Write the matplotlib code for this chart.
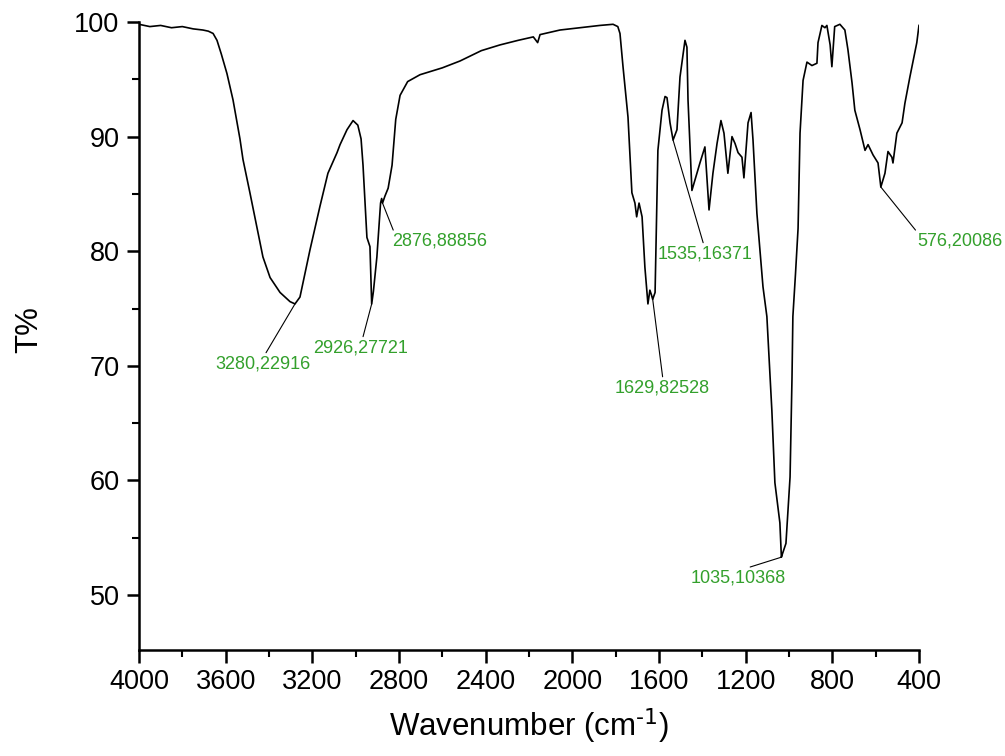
import numpy as np
import matplotlib
matplotlib.use("Agg")
import matplotlib.pyplot as plt
from matplotlib.ticker import MultipleLocator

plt.rcParams['font.family'] = ['Liberation Sans', 'DejaVu Sans']

# FTIR spectrum: wavenumber (cm-1) and transmittance (%)
wavenumber = [
    4000, 3950, 3900, 3850, 3800, 3750, 3705, 3680, 3658, 3640, 3620, 3594,
    3566, 3534, 3520, 3488, 3456, 3428, 3395, 3349, 3303, 3280, 3257, 3211,
    3165, 3128, 3086, 3072, 3040, 3012, 2990, 2975, 2966, 2948, 2934, 2926,
    2918, 2902, 2885, 2880, 2876, 2865, 2850, 2832, 2815, 2795, 2760, 2703,
    2600, 2518, 2420, 2334, 2250, 2180, 2160, 2149, 2057, 1965, 1873, 1812,
    1790, 1780, 1766, 1743, 1725, 1711, 1703, 1692, 1678, 1665, 1651, 1642,
    1635, 1629, 1618, 1605, 1586, 1572, 1563, 1549, 1535, 1517, 1503, 1480,
    1471, 1466, 1448, 1425, 1411, 1388, 1369, 1351, 1332, 1314, 1300, 1282,
    1263, 1249, 1235, 1217, 1208, 1189, 1175, 1166, 1148, 1134, 1120, 1102,
    1079, 1065, 1042, 1035, 1030, 1014, 995, 986, 982, 970, 958, 949, 935,
    917, 894, 871, 866, 848, 834, 825, 810, 802, 789, 765, 742, 728, 709,
    696, 672, 649, 635, 612, 589, 576, 557, 543, 525, 520, 502, 478, 465,
    442, 428, 410, 400,
]
transmittance = [
    99.8, 99.6, 99.7, 99.5, 99.6, 99.4, 99.3, 99.2, 99.0, 98.4, 97.2, 95.5,
    93.2, 89.8, 88.0, 85.1, 82.1, 79.5, 77.7, 76.4, 75.6, 75.4, 76.0, 80.1,
    83.9, 86.8, 88.6, 89.3, 90.6, 91.4, 91.0, 89.8, 87.5, 81.2, 80.4, 75.4,
    76.5, 79.5, 84.2, 84.6, 84.2, 84.8, 85.5, 87.5, 91.5, 93.6, 94.8, 95.4,
    96.0, 96.6, 97.5, 98.0, 98.4, 98.7, 98.2, 98.9, 99.3, 99.5, 99.7, 99.8,
    99.6, 99.0, 96.1, 91.7, 85.1, 84.2, 83.0, 84.2, 83.0, 78.6, 75.4, 76.6,
    76.2, 75.8, 76.4, 88.8, 92.3, 93.5, 93.4, 91.2, 89.7, 90.6, 95.2, 98.4,
    97.8, 93.2, 85.3, 86.8, 87.7, 89.1, 83.6, 86.8, 89.4, 91.4, 90.3, 86.8,
    90.0, 89.4, 88.6, 88.2, 86.4, 91.2, 92.1, 89.7, 83.3, 80.1, 76.9, 74.3,
    66.1, 59.8, 56.3, 53.3, 53.6, 54.5, 60.3, 69.0, 74.3, 78.0, 82.0, 90.3,
    94.9, 96.5, 96.2, 96.4, 98.2, 99.7, 99.5, 99.7, 98.0, 96.1, 99.6, 99.8,
    99.3, 97.6, 94.7, 92.3, 90.6, 88.8, 89.3, 88.4, 87.7, 85.6, 86.8, 88.7,
    88.2, 87.7, 90.3, 91.2, 92.9, 95.2, 96.5, 98.2, 99.7,
]

# Labelled peaks: wavenumber, label text, label position (wavenumber, T), attach point
peak_wn = [3280, 2926, 2876, 1629, 1535, 1035, 576]
peak_labels = ["3280,22916", "2926,27721", "2876,88856", "1629,82528",
               "1535,16371", "1035,10368", "576,20086"]
label_wn = [3430, 2978, 2611, 1586, 1388, 1233, 209]
label_t = [70.9, 72.3, 81.6, 68.8, 80.5, 52.2, 81.6]
label_relx = [0.52, 0.52, 0.02, 0.51, 0.49, 0.53, 0.0]

fig = plt.figure(figsize=(10.05, 7.56), dpi=100)
ax = fig.add_axes([0.1383, 0.1402, 0.9144 - 0.1383, 0.9709 - 0.1402])

ax.plot(wavenumber, transmittance, color='black', lw=1.2)

ax.set_xlim(4000, 400)
ax.set_ylim(45.2, 100)

ax.xaxis.set_major_locator(MultipleLocator(400))
ax.xaxis.set_minor_locator(MultipleLocator(200))
ax.yaxis.set_major_locator(MultipleLocator(10))
ax.yaxis.set_minor_locator(MultipleLocator(5))
ax.set_yticks([50, 60, 70, 80, 90, 100])

for side in ('top', 'right'):
    ax.spines[side].set_visible(False)
for side in ('left', 'bottom'):
    ax.spines[side].set_linewidth(1.8)

ax.tick_params(which='major', direction='out', length=9, width=1.8,
               labelsize=19.5, pad=5)
ax.tick_params(which='minor', direction='out', length=5, width=1.5)

ax.set_xlabel("Wavenumber (cm$^{\\text{-1}}$)", fontsize=22.5, labelpad=8)
ax.set_ylabel("T%", fontsize=22.5)
ax.yaxis.set_label_coords(-0.122, 0.51)

wn_sorted = np.array(wavenumber[::-1], dtype=float)
t_sorted = np.array(transmittance[::-1], dtype=float)
for wn, text, lx, ly, rx in zip(peak_wn, peak_labels, label_wn, label_t, label_relx):
    ty = float(np.interp(wn, wn_sorted, t_sorted))
    ax.annotate(text, xy=(wn, ty), xytext=(lx, ly), textcoords='data',
                ha='center', va='top', fontsize=13, color='#33a02c',
                annotation_clip=False,
                arrowprops=dict(arrowstyle='-', color='black', lw=0.8,
                                shrinkA=0, shrinkB=0, relpos=(rx, 1.0)))

fig.savefig("out.png", dpi=100)
